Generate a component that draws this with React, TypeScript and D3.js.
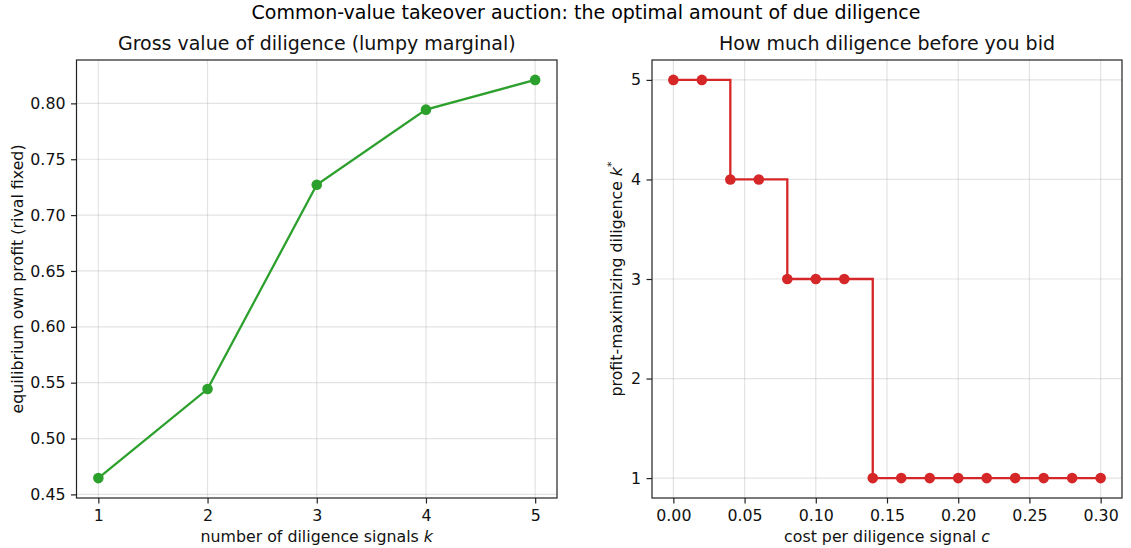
import React, { useEffect, useRef } from "react";
import * as d3 from "d3";

const signalsK = [1, 2, 3, 4, 5];
const ownProfit = [0.4646, 0.5443, 0.7271, 0.7944, 0.821];
const leftYTicks = [0.45, 0.5, 0.55, 0.6, 0.65, 0.7, 0.75, 0.8];

const costC = [0, 0.02, 0.04, 0.06, 0.08, 0.1, 0.12, 0.14, 0.16, 0.18, 0.2, 0.22, 0.24, 0.26, 0.28, 0.3];
const optimalK = [5, 5, 4, 4, 3, 3, 3, 1, 1, 1, 1, 1, 1, 1, 1, 1];
const rightXTicks = [0, 0.05, 0.1, 0.15, 0.2, 0.25, 0.3];
const rightYTicks = [1, 2, 3, 4, 5];

const W = 1131;
const H = 548;
const FONT = "DejaVu Sans, sans-serif";
const TICK_FS = 15.8;
const TITLE_FS = 19;

export default function App() {
  const ref = useRef<SVGSVGElement | null>(null);

  useEffect(() => {
    const svg = d3.select(ref.current);
    svg.selectAll("*").remove();
    svg.append("rect").attr("width", W).attr("height", H).attr("fill", "white");

    svg.append("text")
      .attr("x", 586).attr("y", 18.5)
      .attr("text-anchor", "middle")
      .attr("font-family", FONT).attr("font-size", TITLE_FS)
      .text("Common-value takeover auction: the optimal amount of due diligence");

    function panel(opts: {
      left: number; right: number; top: number; bottom: number;
      xDomain: [number, number]; yDomain: [number, number];
      xTicks: number[]; yTicks: number[];
      xFmt: (v: number) => string; yFmt: (v: number) => string;
      xs: number[]; ys: number[]; color: string; step: boolean;
      title: string; xlabel: (t: any) => void; ylabel: (t: any) => void; ylabelX: number;
    }) {
      const x = d3.scaleLinear().domain(opts.xDomain).range([opts.left, opts.right]);
      const y = d3.scaleLinear().domain(opts.yDomain).range([opts.bottom, opts.top]);
      const g = svg.append("g");

      g.selectAll(".gx").data(opts.xTicks).enter().append("line")
        .attr("x1", (d) => x(d)).attr("x2", (d) => x(d))
        .attr("y1", opts.top).attr("y2", opts.bottom)
        .attr("stroke", "#b0b0b0").attr("stroke-opacity", 0.35).attr("stroke-width", 1.2);
      g.selectAll(".gy").data(opts.yTicks).enter().append("line")
        .attr("y1", (d) => y(d)).attr("y2", (d) => y(d))
        .attr("x1", opts.left).attr("x2", opts.right)
        .attr("stroke", "#b0b0b0").attr("stroke-opacity", 0.35).attr("stroke-width", 1.2);

      const xAxis = d3.axisBottom(x).tickValues(opts.xTicks).tickFormat((d) => opts.xFmt(d as number))
        .tickSize(5.5).tickPadding(5.5);
      const yAxis = d3.axisLeft(y).tickValues(opts.yTicks).tickFormat((d) => opts.yFmt(d as number))
        .tickSize(5.5).tickPadding(5.5);
      const gx = g.append("g").attr("transform", `translate(0,${opts.bottom})`).call(xAxis);
      const gy = g.append("g").attr("transform", `translate(${opts.left},0)`).call(yAxis);
      [gx, gy].forEach((a) => {
        a.select(".domain").remove();
        a.selectAll("line").attr("stroke", "#222").attr("stroke-width", 1.2);
        a.selectAll("text").attr("font-family", FONT).attr("font-size", TICK_FS).attr("fill", "#111");
      });
      gx.selectAll("text").attr("dy", null).attr("y", 23).attr("dominant-baseline", null);

      const line = d3.line<number>()
        .x((_, i) => x(opts.xs[i]))
        .y((d) => y(d))
        .curve(opts.step ? d3.curveStepAfter : d3.curveLinear);
      g.append("path").datum(opts.ys).attr("d", line)
        .attr("fill", "none").attr("stroke", opts.color).attr("stroke-width", 2.3);
      g.selectAll(".pt").data(opts.ys).enter().append("circle")
        .attr("cx", (_, i) => x(opts.xs[i])).attr("cy", (d) => y(d))
        .attr("r", 5.3).attr("fill", opts.color);

      g.append("rect")
        .attr("x", opts.left).attr("y", opts.top)
        .attr("width", opts.right - opts.left).attr("height", opts.bottom - opts.top)
        .attr("fill", "none").attr("stroke", "#222").attr("stroke-width", 1.2);

      g.append("text")
        .attr("x", (opts.left + opts.right) / 2).attr("y", 50)
        .attr("text-anchor", "middle")
        .attr("font-family", FONT).attr("font-size", TITLE_FS).attr("fill", "#111")
        .text(opts.title);

      const xl = g.append("text")
        .attr("x", (opts.left + opts.right) / 2).attr("y", 542)
        .attr("text-anchor", "middle")
        .attr("font-family", FONT).attr("font-size", TICK_FS).attr("fill", "#111");
      opts.xlabel(xl);

      const cy = (opts.top + opts.bottom) / 2;
      const yl = g.append("text")
        .attr("transform", `translate(${opts.ylabelX},${cy}) rotate(-90)`)
        .attr("text-anchor", "middle")
        .attr("font-family", FONT).attr("font-size", TICK_FS).attr("fill", "#111");
      opts.ylabel(yl);
    }

    const lyMin = d3.min(ownProfit)!;
    const lyMax = d3.max(ownProfit)!;
    const lpad = (lyMax - lyMin) * 0.05;
    panel({
      left: 76.5, right: 557, top: 60, bottom: 498,
      xDomain: [0.8, 5.2], yDomain: [lyMin - lpad, lyMax + lpad],
      xTicks: signalsK, yTicks: leftYTicks,
      xFmt: (v) => d3.format("d")(v), yFmt: (v) => d3.format(".2f")(v),
      xs: signalsK, ys: ownProfit, color: "#2ca02c", step: false,
      title: "Gross value of diligence (lumpy marginal)",
      xlabel: (t) => {
        t.append("tspan").text("number of diligence signals ");
        t.append("tspan").attr("font-style", "italic").text("k");
      },
      ylabel: (t) => t.text("equilibrium own profit (rival fixed)"),
      ylabelX: 23,
    });

    panel({
      left: 652, right: 1122, top: 60, bottom: 498,
      xDomain: [-0.015, 0.315], yDomain: [0.8, 5.2],
      xTicks: rightXTicks, yTicks: rightYTicks,
      xFmt: (v) => d3.format(".2f")(v), yFmt: (v) => d3.format("d")(v),
      xs: costC, ys: optimalK, color: "#d62728", step: true,
      title: "How much diligence before you bid",
      xlabel: (t) => {
        t.append("tspan").text("cost per diligence signal ");
        t.append("tspan").attr("font-style", "italic").text("c");
      },
      ylabel: (t) => {
        t.append("tspan").text("profit-maximizing diligence ");
        t.append("tspan").attr("font-style", "italic").text("k");
        t.append("tspan").attr("font-size", 11).attr("dy", -7).text("*");
      },
      ylabelX: 622,
    });
  }, []);

  return <svg ref={ref} width={W} height={H} style={{ display: "block", position: "absolute", left: 0, top: 0 }} />;
}
